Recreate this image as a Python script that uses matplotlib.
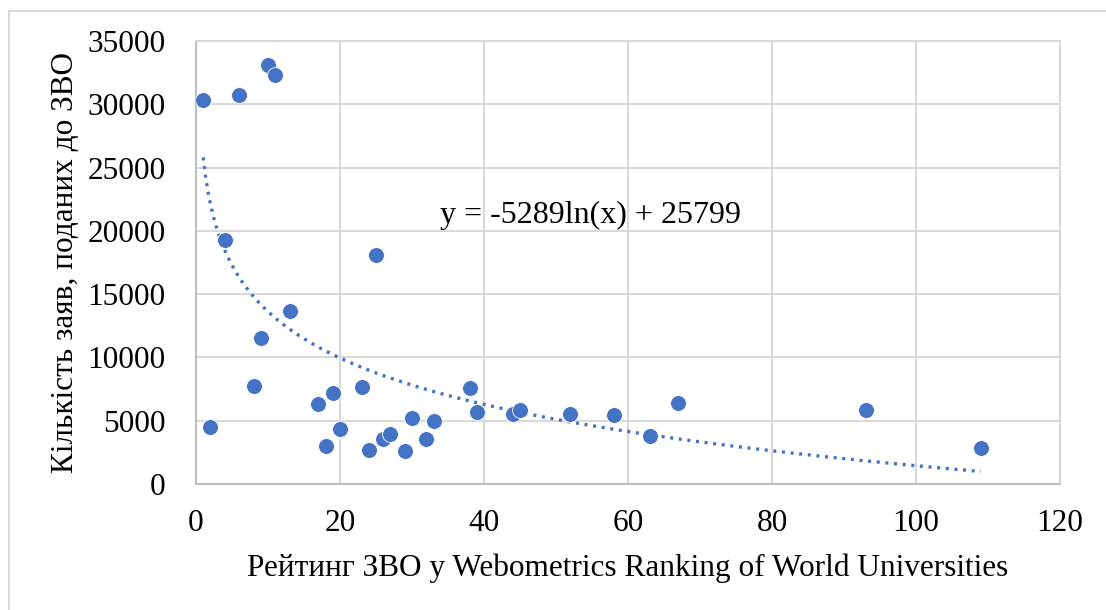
import matplotlib
matplotlib.use("Agg")
import matplotlib.pyplot as plt
import numpy as np
from matplotlib.patches import Rectangle

# rank in Webometrics vs number of applications
rank = [1, 2, 4, 6, 8, 9, 10, 11, 13, 17, 18, 19, 20, 23, 24, 25,
        26, 27, 29, 30, 32, 33, 38, 39, 44, 45, 52, 58, 63, 67, 93, 109]
apps = [30300, 4500, 19300, 30700, 7780, 11500, 33100, 32300, 13700, 6350,
        3000, 7200, 4350, 7700, 2700, 18100, 3570, 3970, 2620, 5240,
        3570, 5000, 7620, 5720, 5560, 5870, 5560, 5480, 3810, 6400, 5870, 2880]

trend_a = -5289
trend_b = 25799
eq_text = "y = -5289ln(x) + 25799"

blue = "#4472C4"
grid_c = "#d9d9d9"

plt.rcParams['font.family'] = ['Liberation Serif', 'DejaVu Serif']

fig = plt.figure(figsize=(11.06, 6.10), dpi=100)
fig.patches.append(Rectangle((0.0085, -0.01), 1.0, 0.992, transform=fig.transFigure,
                             fill=False, edgecolor=grid_c, linewidth=1.5))
ax = fig.add_axes([0.1772, 0.2066, 0.7812, 0.7262])

xs = np.linspace(1, 109, 300)
ax.plot(xs, trend_a * np.log(xs) + trend_b, color=blue, linewidth=2.4,
        linestyle=(0, (0.9, 1.7)), zorder=2)
ax.scatter(rank, apps, s=130, color=blue, edgecolors="white", linewidths=0.6, zorder=3)

ax.text(33.9, 21200, eq_text, fontsize=23, va="center", ha="left", zorder=4)

ax.set_xlim(0, 120)
ax.set_ylim(0, 35000)
ax.set_xticks(range(0, 121, 20))
ax.set_yticks(range(0, 35001, 5000))
ax.grid(True, color=grid_c, linewidth=1.5)
ax.set_axisbelow(True)
for s in ax.spines.values():
    s.set_color(grid_c)
    s.set_linewidth(1.5)
ax.spines["left"].set_color("#bfbfbf")
ax.spines["bottom"].set_color("#bfbfbf")
ax.tick_params(length=0, labelsize=22.5, pad=0)
ax.tick_params(axis="y", pad=22)
ax.tick_params(axis="x", pad=18)

ax.set_xlabel("Рейтинг ЗВО у Webometrics Ranking of World Universities", fontsize=22.5, labelpad=11)
ax.set_ylabel("Кількість заяв, поданих до ЗВО", fontsize=22.5, labelpad=5)

fig.savefig("out.png", dpi=100)
